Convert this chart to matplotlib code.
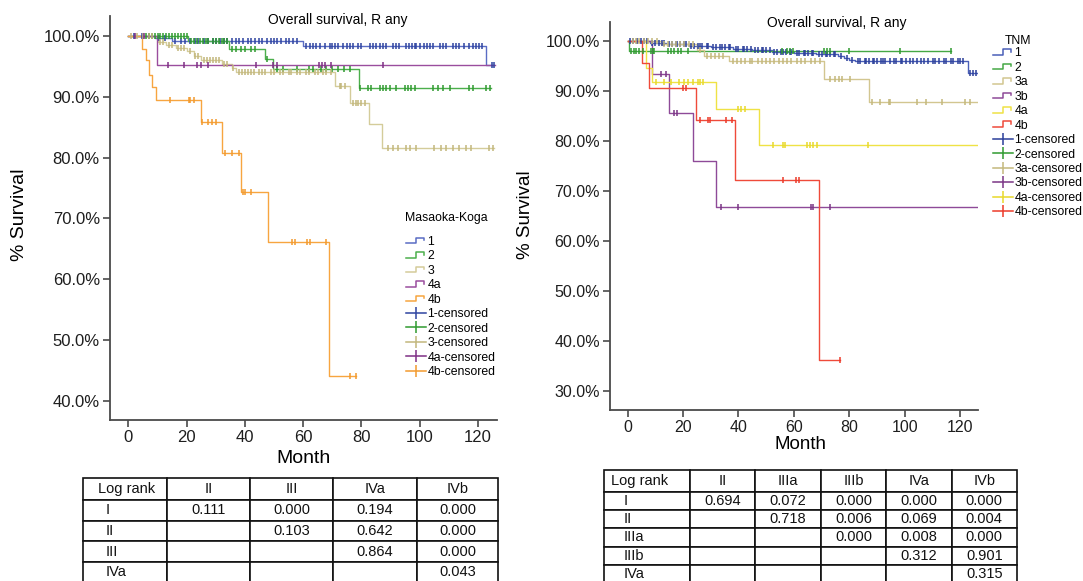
import numpy as np
import matplotlib
matplotlib.use("Agg")
import matplotlib.pyplot as plt
from matplotlib.lines import Line2D
from matplotlib.legend_handler import HandlerBase
from matplotlib.table import Table

plt.rcParams['font.family'] = ['Liberation Sans', 'DejaVu Sans']

# ---------------- Masaoka-Koga stages ----------------
mk_labels = ["1", "2", "3", "4a", "4b"]
mk_line_colors = ["#5a6cc4", "#4caf4c", "#d4cc9a", "#9a4d9e", "#f7a540"]
mk_mark_colors = ["#2e44a0", "#2f9a2f", "#c2b77c", "#7e2f85", "#f29a2e"]

mk1_times = [9, 15, 60, 122.8]
mk1_surv = [99.6, 99.2, 98.3, 95.3]
mk1_end = 125.5
mk1_cens = [2, 4.5, 7, 10.5, 12.5, 16, 18, 19.5, 21, 23, 24, 26, 27.5, 29, 30, 31.5,
            33, 34, 35.5, 37, 38, 39.5, 41, 42, 43.5, 45, 46, 47.5, 49, 50, 51, 52.5,
            54, 55, 56.5, 58, 61, 62.5, 63.5, 64.5, 65.7, 67.4, 69.1, 70, 71, 72, 73.7,
            75, 76, 77.1, 78.8, 80, 82.9, 84, 85.2, 86.5, 87.5, 88.6, 90.8, 92, 93.1,
            95.4, 96.5, 97.5, 98.3, 98.9, 100, 101.5, 102.5, 103.5, 104.6, 106.9, 108,
            109.2, 111.4, 112.5, 113.7, 115.4, 117.1, 118.3, 119.5, 120.5, 121.5, 124.8,
            125.5]

mk2_times = [20.5, 34.5, 46.8, 49.8, 79.2]
mk2_surv = [99.2, 97.9, 96.3, 94.5, 91.4]
mk2_end = 124.5
mk2_cens = [6, 7, 8, 9, 10, 11, 12, 13, 14, 15, 16, 17, 18, 19, 20, 21.5, 22.5, 23.5,
            24.5, 25.5, 26.5, 27.5, 29, 30, 31, 32, 33, 34, 35.5, 37, 38.5, 40, 42,
            43.5, 47.5, 51, 53, 58, 62, 63.5, 66, 68, 70, 72, 74, 76, 79.4, 82.3, 83.4,
            86.3, 87.4, 88.6, 89.7, 92, 94.9, 96, 97.2, 98.3, 104.6, 106.3, 108, 110.3,
            117.1, 118.3, 122.9, 124.3]

mk3_times = [10, 13, 16.5, 20, 22.5, 25, 32, 35.5, 37, 70.8, 76, 82.5, 87.1]
mk3_surv = [99.1, 98.5, 98.1, 97.5, 96.7, 96.1, 95.4, 94.7, 94.0, 91.8, 89.0, 85.5, 81.6]
mk3_end = 125.5
mk3_cens = [1, 3, 5, 7, 8, 11, 12, 14, 15, 17, 18, 19, 21, 23, 24, 26, 27, 28, 29, 30,
            31, 33, 34, 36, 38, 39, 40, 41, 42, 43, 45, 46, 47, 49, 50, 52, 53, 55, 56,
            58, 59, 61, 62, 64, 65, 67, 68, 69.5, 72.6, 73.1, 74.3, 77.2, 78.3, 78.8, 80,
            81.1, 89.1, 90.8, 92.6, 95.4, 96.6, 98.9, 105.1, 107.4, 109.2, 111.4, 113.7,
            116, 117.7, 124, 125.1]

mk4a_times = [9.7]
mk4a_surv = [95.2]
mk4a_end = 126
mk4a_cens = [2.4, 5.3, 13.5, 19, 23.5, 24.9, 27.2, 43.8, 49.8, 51, 65.5, 66.5, 67.5,
             69.5, 87.3]

mk4b_times = [4.5, 6, 7, 8, 9.5, 24.8, 32, 38.7, 48, 69]
mk4b_surv = [97.8, 96.0, 93.6, 91.6, 89.4, 85.9, 80.7, 74.4, 66.1, 44.1]
mk4b_end = 78
mk4b_cens = [14.2, 20.7, 21.3, 22.5, 25.4, 27.2, 28.6, 30.2, 33.1, 35.5, 37.9, 39.3,
             40, 42, 56.3, 57.1, 61.3, 62.2, 67.9, 76.2, 78]

# ---------------- TNM stages ----------------
tnm_labels = ["1", "2", "3a", "3b", "4a", "4b"]
tnm_line_colors = ["#4a5fb8", "#45a845", "#d2c690", "#8e4a98", "#efe245", "#ef4a3a"]
tnm_mark_colors = ["#2b3f9a", "#2f9a2f", "#c4b87c", "#7a3585", "#e8d92a", "#ec3a2a"]

tnm1_times = [8, 14, 22, 30, 38, 45, 52, 60, 68, 76, 78, 80, 82, 122.9]
tnm1_surv = [99.6, 99.3, 99.0, 98.7, 98.4, 98.1, 97.8, 97.6, 97.3, 96.9, 96.5, 96.2,
             95.9, 93.5]
tnm1_end = 126
tnm1_cens = [1, 2, 3.5, 5, 6, 7, 9, 10, 11.5, 12.5, 13, 15, 16, 17.5, 18, 19, 20.5, 21,
             23, 24, 25.5, 26, 27, 28.5, 29, 31, 32, 33.5, 34, 35, 36.5, 37, 39, 40,
             41.5, 42, 43, 44.5, 46, 47, 48.5, 49, 50, 51.5, 53, 54, 55.5, 56, 57, 58.5,
             59, 61, 62, 63.5, 64, 65, 66.5, 67, 69, 70, 71.5, 72, 73, 74.5, 75, 77, 79,
             81, 83, 84, 85.5, 86, 87, 88.5, 89, 90, 91.5, 92, 93, 94.5, 96, 97, 98.5,
             99, 100.5, 102, 103, 104.5, 106, 107, 108.5, 110, 111, 112.5, 114, 115,
             116.5, 117.5, 119, 120, 121, 123.5, 124.5, 125.5]

tnm2_times = [0.6]
tnm2_surv = [98.0]
tnm2_end = 116.5
tnm2_cens = [1.2, 2.5, 3.1, 4.3, 5.5, 8.5, 9.1, 9.7, 14.5, 15.7, 16.9, 18.1, 19.3,
             21.7, 55.6, 57.4, 58.6, 59.8, 70.7, 71.9, 73.1, 79.7, 98.4, 116.5]

tnm3a_times = [12, 25, 27.4, 36.6, 71, 87]
tnm3a_surv = [99.3, 98.1, 96.9, 96.0, 92.4, 87.7]
tnm3a_end = 126
tnm3a_cens = [2, 3, 4, 6, 7.5, 9, 10.5, 13, 14.5, 16, 17.5, 19, 20.5, 22, 23.5, 26,
              28.5, 30, 31.5, 33, 34.5, 38, 39.5, 41, 42.5, 44, 45, 47, 48.5, 50, 51.5,
              53, 54.5, 56, 57.5, 59, 61, 62.5, 64, 66, 67.5, 69.5, 73.1, 74.9, 76.1,
              77.3, 80.3, 88.2, 91.2, 94.2, 94.8, 104.5, 107.5, 113.5, 121.6, 123.5]

tnm3b_times = [8.9, 15.1, 23.6, 31.8]
tnm3b_surv = [93.3, 85.5, 76.0, 66.7]
tnm3b_end = 126
tnm3b_cens = [12.1, 13.9, 16.9, 17.8, 33.7, 39.9, 66, 66.9, 72.9]

tnm4a_times = [6.6, 9.0, 32, 47.5]
tnm4a_surv = [94.6, 91.8, 86.3, 79.1]
tnm4a_end = 126
tnm4a_cens = [10.3, 13.3, 15.7, 18.7, 20.5, 21.7, 23.6, 25.4, 26, 27.2, 39.9, 41.1,
              42.3, 52.5, 56.2, 56.8, 64.6, 65.8, 67, 68.3, 86.6]

tnm4b_times = [5.4, 7.6, 24.8, 38.7, 69]
tnm4b_surv = [95.5, 90.5, 84.1, 72.1, 36.1]
tnm4b_end = 76.5
tnm4b_cens = [19.9, 21.1, 26, 29, 29.6, 35.6, 37.5, 56.2, 60.8, 61.7, 76.5]

# ---------------- log-rank p-value tables ----------------
mk_table_header = ["Log rank", "II", "III", "IVa", "IVb"]
mk_table_rows = [
    ["I", "0.111", "0.000", "0.194", "0.000"],
    ["II", "", "0.103", "0.642", "0.000"],
    ["III", "", "", "0.864", "0.000"],
    ["IVa", "", "", "", "0.043"],
]
tnm_table_header = ["Log rank", "II", "IIIa", "IIIb", "IVa", "IVb"]
tnm_table_rows = [
    ["I", "0.694", "0.072", "0.000", "0.000", "0.000"],
    ["II", "", "0.718", "0.006", "0.069", "0.004"],
    ["IIIa", "", "", "0.000", "0.008", "0.000"],
    ["IIIb", "", "", "", "0.312", "0.901"],
    ["IVa", "", "", "", "", "0.315"],
]

title_text = "Overall survival, R any"

W, H = 1083, 581
fig = plt.figure(figsize=(W / 100, H / 100), dpi=100)


def fx(px):
    return px / W


def fy(py):
    return 1 - py / H


def km(ax, times, surv, cens, end, lc, mc):
    t = np.array([0.0] + list(times) + [end])
    s = np.array([100.0] + list(surv) + [surv[-1]])
    ax.step(t, s, where="post", color=lc, lw=1.0, zorder=2)
    levels = np.array([100.0] + list(surv))
    c = np.asarray(cens, dtype=float)
    cy = levels[np.searchsorted(np.asarray(times, dtype=float), c, side="right")]
    ax.plot(c, cy, ls="none", marker="|", ms=5.0, mew=1.1, color=mc, zorder=3)


def style_axes(ax, ylo, yhi, yticks, tick_fs):
    ax.set_xlim(-6.5, 126.5)
    ax.set_ylim(ylo, yhi)
    ax.set_xticks(np.arange(0, 121, 20))
    ax.set_yticks(yticks)
    ax.set_yticklabels([f"{v:.1f}%" for v in yticks])
    for side in ("top", "right"):
        ax.spines[side].set_visible(False)
    for side in ("left", "bottom"):
        ax.spines[side].set_color("#4a4a4a")
        ax.spines[side].set_linewidth(1.3)
    ax.tick_params(direction="out", length=5, width=1.2, color="#4a4a4a",
                   labelsize=tick_fs, labelcolor="#1e1e1e", pad=2)


class StepIcon(HandlerBase):
    def create_artists(self, legend, orig_handle, xdescent, ydescent, width,
                       height, fontsize, trans):
        x0, y0 = -xdescent, -ydescent
        xs = x0 + np.array([0.0, 0.5, 0.5, 0.9, 0.9]) * width
        ys = y0 + np.array([0.2, 0.2, 0.85, 0.85, 0.55]) * height
        ln = Line2D(xs, ys, color=orig_handle.get_color(), lw=1.1)
        ln.set_transform(trans)
        return [ln]


def add_legend(ax, labels, lcolors, mcolors, left_px, top_px):
    step_handles = [Line2D([], [], color=c) for c in lcolors]
    cens_handles = [Line2D([], [], color=c, marker="|", ms=8, mew=1.1, lw=1.1)
                    for c in mcolors]
    handles = step_handles + cens_handles
    texts = labels + [f"{l}-censored" for l in labels]
    leg = ax.legend(handles, texts, handler_map={h: StepIcon() for h in step_handles},
                    loc="upper left", bbox_to_anchor=(fx(left_px), fy(top_px)),
                    bbox_transform=fig.transFigure, frameon=False, borderpad=0,
                    borderaxespad=0, handlelength=1.6, handletextpad=0.15,
                    labelspacing=0.2, fontsize=8.8)
    return leg


def draw_table(rect_px, header, rows, col_px, row_px, pad_head, pad_row):
    x0, y0, x1, y1 = rect_px
    tax = fig.add_axes([fx(x0), fy(y1), fx(x1 - x0), (y1 - y0) / H])
    tax.set_axis_off()
    tab = Table(tax, bbox=[0, 0, 1, 1])
    allrows = [header] + rows
    for r, row in enumerate(allrows):
        for c, txt in enumerate(row):
            cell = tab.add_cell(r, c, width=col_px[c], height=row_px[r], text=txt,
                                loc="left" if c == 0 else "center",
                                edgecolor="#111111", facecolor="white")
            cell.set_linewidth(1.2)
            cell.get_text().set_fontsize(10.5)
            cell.get_text().set_color("#111111")
            if c == 0:
                cell.PAD = pad_head if r == 0 else pad_row
    tab.auto_set_font_size(False)
    tax.add_table(tab)


# ---------------- left panel: Masaoka-Koga ----------------
axL = fig.add_axes([fx(109.5), fy(420), fx(496.7 - 109.5), (420 - 16) / H])
mk_series = [
    (mk1_times, mk1_surv, mk1_cens, mk1_end),
    (mk2_times, mk2_surv, mk2_cens, mk2_end),
    (mk3_times, mk3_surv, mk3_cens, mk3_end),
    (mk4a_times, mk4a_surv, mk4a_cens, mk4a_end),
    (mk4b_times, mk4b_surv, mk4b_cens, mk4b_end),
]
for (t, s, c, e), lc, mc in zip(mk_series, mk_line_colors, mk_mark_colors):
    km(axL, t, s, c, e, lc, mc)
style_axes(axL, 36.8, 103.3, np.arange(40, 101, 10), 12)
axL.set_xlabel("Month", fontsize=14)
axL.set_ylabel("% Survival", fontsize=14)
axL.xaxis.set_label_coords(0.502, -0.075)
axL.yaxis.set_label_coords(-0.21, 0.507)
fig.text(fx(338), fy(20), title_text, ha="center", va="center", fontsize=10)
fig.text(fx(405), fy(217.5), "Masaoka-Koga", ha="left", va="center", fontsize=8.8)
add_legend(axL, mk_labels, mk_line_colors, mk_mark_colors, 406, 236)

# ---------------- right panel: TNM ----------------
axR = fig.add_axes([fx(609.5), fy(410), fx(978.3 - 609.5), (410 - 21.7) / H])
tnm_series = [
    (tnm1_times, tnm1_surv, tnm1_cens, tnm1_end),
    (tnm2_times, tnm2_surv, tnm2_cens, tnm2_end),
    (tnm3a_times, tnm3a_surv, tnm3a_cens, tnm3a_end),
    (tnm3b_times, tnm3b_surv, tnm3b_cens, tnm3b_end),
    (tnm4a_times, tnm4a_surv, tnm4a_cens, tnm4a_end),
    (tnm4b_times, tnm4b_surv, tnm4b_cens, tnm4b_end),
]
for (t, s, c, e), lc, mc in zip(tnm_series, tnm_line_colors, tnm_mark_colors):
    km(axR, t, s, c, e, lc, mc)
style_axes(axR, 26.1, 103.8, np.arange(30, 101, 10), 11.5)
axR.set_xlabel("Month", fontsize=13.5)
axR.set_ylabel("% Survival", fontsize=13.5)
axR.xaxis.set_label_coords(0.518, -0.068)
axR.yaxis.set_label_coords(-0.205, 0.502)
fig.text(fx(837), fy(23.5), title_text, ha="center", va="center", fontsize=10)
fig.text(fx(1005), fy(41.5), "TNM", ha="left", va="center", fontsize=8.8)
add_legend(axR, tnm_labels, tnm_line_colors, tnm_mark_colors, 993, 47.5)

# ---------------- p-value tables ----------------
draw_table((82.7, 478.3, 498.3, 582), mk_table_header, mk_table_rows,
           [84, 83.3, 83.3, 83.4, 81.6], [21.7, 20.7, 20.7, 20.3, 20.3], 0.18, 0.27)
draw_table((604, 470, 1017, 583.2), tnm_table_header, tnm_table_rows,
           [86, 65.4, 65.4, 65.4, 65.4, 65.4], [21.7, 18.3, 18.3, 18.3, 18.3, 18.3],
           0.08, 0.23)

fig.savefig("out.png", dpi=100)
